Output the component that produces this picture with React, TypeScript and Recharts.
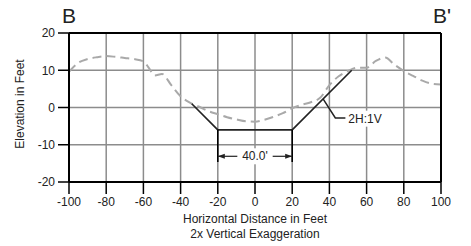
import React from 'react'
import {
  ComposedChart,
  Line,
  XAxis,
  YAxis,
  CartesianGrid,
  ReferenceLine,
  ReferenceDot,
} from 'recharts'

// existing ground (dashed)
const groundX = [-100, -95, -90, -85, -80, -75, -70, -65, -60, -57, -54, -50, -45, -40, -35, -30, -25, -20, -15, -10, -5, 0, 5, 10, 15, 20, 25, 30, 35, 40, 45, 50, 55, 60, 65, 70, 75, 80, 85, 90, 95, 100]
const groundY = [9.6, 12, 13, 13.5, 13.8, 13.6, 13.3, 13, 12.4, 10.6, 8.6, 9, 6, 3, 1.3, 0.2, -1, -1.8, -2.6, -3.2, -3.7, -3.8, -3.3, -2.5, -1.5, -0.2, 0.7, 1.4, 2.6, 6, 8.4, 9.8, 10.7, 10.7, 12.5, 13.4, 11.5, 9.8, 8.5, 7.2, 6.4, 6.2]

// excavation section (solid)
const cutX = [-34, -20, 20, 52]
const cutY = [1, -6, -6, 10]

// dimension + leader annotations
const dimY = -13.1
const dimBottom = -14.6
const dimLeftX = [-20, -9.5]
const dimRightX = [9.5, 20]
const leaderX = [36.6, 43.2, 48.6]
const leaderY = [2.3, -2.8, -2.8]

const xTicks = [-100, -80, -60, -40, -20, 0, 20, 40, 60, 80, 100]
const yTicks = [-20, -10, 0, 10, 20]

const ground = groundX.map((x, i) => ({ x, y: groundY[i] }))
const cut = cutX.map((x, i) => ({ x, y: cutY[i] }))
const leader = leaderX.map((x, i) => ({ x, y: leaderY[i] }))
const dimLeft = dimLeftX.map((x) => ({ x, y: dimY }))
const dimRight = dimRightX.map((x) => ({ x, y: dimY }))
const extLeft = [{ x: -20, y: -6 }, { x: -20, y: dimBottom }]
const extRight = [{ x: 20, y: -6 }, { x: 20, y: dimBottom }]

const FONT = '"Liberation Sans", Arial, sans-serif'
const INK = '#222'
const tickStyle = { fill: INK, fontSize: 12, fontFamily: FONT }

const Arrow = ({ cx, cy, dir }: any) => (
  <path
    d={`M${cx},${cy} L${cx - dir * 7},${cy - 2.5} L${cx - dir * 7},${cy + 2.5} Z`}
    fill={INK}
  />
)

const Tag = ({ cx, cy, text, anchor, w }: any) => {
  const x0 = anchor === 'middle' ? cx - w / 2 : cx - 1
  return (
    <g>
      <rect x={x0} y={cy - 8} width={w} height={16} fill="#fff" />
      <text x={cx} y={cy + 4} textAnchor={anchor} fontSize={12} fontFamily={FONT} fill={INK}>
        {text}
      </text>
    </g>
  )
}

export default function App() {
  return (
    <div style={{ position: 'absolute', left: 0, top: 0, width: 471, height: 246, background: '#fff', fontFamily: FONT }}>
      <ComposedChart width={471} height={246} margin={{ top: 33, right: 0, bottom: 34, left: 0 }}>
        <CartesianGrid yAxisId="l" stroke="#8c8c8c" strokeWidth={1.5} />
        <XAxis
          type="number"
          dataKey="x"
          domain={[-100, 100]}
          ticks={xTicks}
          allowDataOverflow
          height={30}
          tickSize={12}
          tickMargin={3}
          tick={tickStyle}
          tickLine={{ stroke: '#000', strokeWidth: 1.5 }}
          axisLine={{ stroke: '#000', strokeWidth: 2 }}
        />
        <YAxis
          yAxisId="l"
          type="number"
          domain={[-20, 20]}
          ticks={yTicks}
          width={69}
          tickSize={11}
          tickMargin={3}
          tick={tickStyle}
          tickLine={{ stroke: '#000', strokeWidth: 1.5 }}
          axisLine={{ stroke: '#000', strokeWidth: 2 }}
        />
        <YAxis
          yAxisId="r"
          orientation="right"
          type="number"
          domain={[-20, 20]}
          ticks={yTicks}
          width={30}
          tickSize={9}
          tickMargin={3}
          tick={tickStyle}
          tickLine={{ stroke: '#000', strokeWidth: 1.5 }}
          axisLine={{ stroke: '#000', strokeWidth: 2 }}
        />
        <ReferenceLine yAxisId="l" y={20} stroke="#000" strokeWidth={2} />
        <Line yAxisId="l" data={ground} dataKey="y" type="monotone" stroke="#a9a9a9" strokeWidth={2} strokeDasharray="9 5" dot={false} isAnimationActive={false} />
        <Line yAxisId="l" data={cut} dataKey="y" type="linear" stroke={INK} strokeWidth={1.6} dot={false} isAnimationActive={false} />
        <Line yAxisId="l" data={extLeft} dataKey="y" stroke="#000" strokeWidth={1.6} dot={false} isAnimationActive={false} />
        <Line yAxisId="l" data={extRight} dataKey="y" stroke="#000" strokeWidth={1.6} dot={false} isAnimationActive={false} />
        <ReferenceDot yAxisId="l" x={0} y={dimY} shape={(p: any) => <Tag {...p} text="40.0'" anchor="middle" w={30} />} />
        <ReferenceDot yAxisId="l" x={50.2} y={-3} shape={(p: any) => <Tag {...p} text="2H:1V" anchor="start" w={36} />} />
        <Line yAxisId="l" data={dimLeft} dataKey="y" stroke={INK} strokeWidth={1.2} dot={false} isAnimationActive={false} />
        <Line yAxisId="l" data={dimRight} dataKey="y" stroke={INK} strokeWidth={1.2} dot={false} isAnimationActive={false} />
        <Line yAxisId="l" data={leader} dataKey="y" stroke={INK} strokeWidth={1.5} dot={false} isAnimationActive={false} />
        <ReferenceDot yAxisId="l" x={-20} y={dimY} shape={(p: any) => <Arrow {...p} dir={-1} />} />
        <ReferenceDot yAxisId="l" x={20} y={dimY} shape={(p: any) => <Arrow {...p} dir={1} />} />
      </ComposedChart>
      <div style={{ position: 'absolute', left: 62, top: 4, fontSize: 21, color: INK }}>B</div>
      <div style={{ position: 'absolute', left: 433, top: 4, fontSize: 21, color: INK }}>B'</div>
      <div style={{ position: 'absolute', left: 20, top: 104, transform: 'translate(-50%, -50%) rotate(-90deg)', whiteSpace: 'nowrap', fontSize: 12, color: INK }}>
        Elevation in Feet
      </div>
      <div style={{ position: 'absolute', left: 255, top: 212, transform: 'translateX(-50%)', whiteSpace: 'nowrap', fontSize: 12, lineHeight: '15px', textAlign: 'center', color: INK }}>
        Horizontal Distance in Feet
        <br />
        2x Vertical Exaggeration
      </div>
    </div>
  )
}
